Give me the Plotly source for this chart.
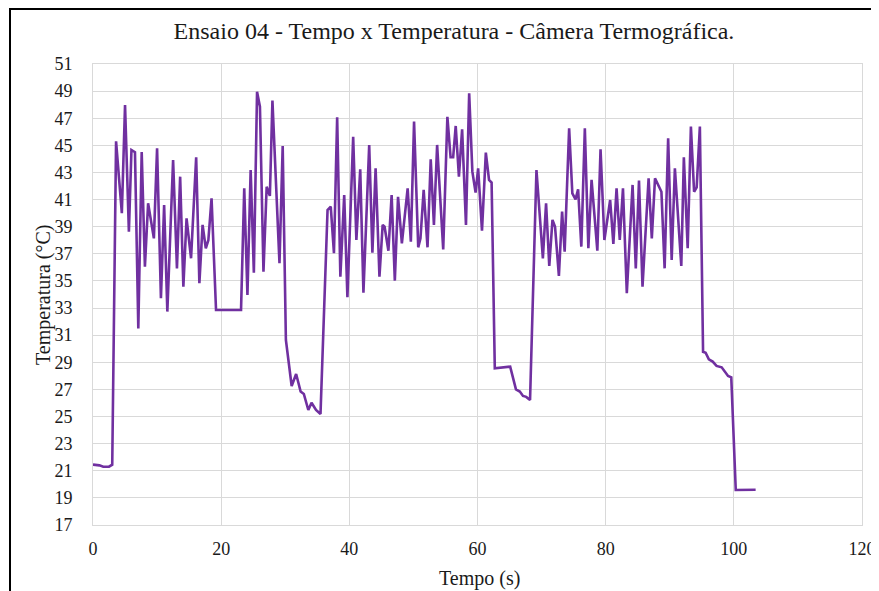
import plotly.graph_objects as go

tempo = [0, 1.0, 1.6, 2.5, 3.0, 3.6, 4.5, 5.0, 5.6, 6.0, 6.55, 7.07, 7.6, 8.1, 8.6, 9.5,
         10.0, 10.6, 11.1, 11.6, 12.5, 13.1, 13.6, 14.1, 14.6, 15.3, 16.1, 16.6, 17.1, 17.6,
         18.0, 18.5, 19.2, 23.1, 23.6, 24.1, 24.6, 25.1, 25.6, 26.05, 26.6, 27.1, 27.6, 28.0,
         29.1, 29.6, 30.1, 30.6, 31.0, 31.7, 32.4, 32.9, 33.6, 34.1, 34.8, 35.5, 36.6, 37.1,
         37.6, 38.1, 38.6, 39.2, 39.7, 40.6, 41.1, 41.7, 42.2, 43.1, 43.6, 44.1, 44.7, 45.2,
         45.5, 46.1, 46.6, 47.1, 47.6, 48.2, 49.1, 49.6, 50.1, 50.75, 51.1, 51.6, 52.2, 52.7,
         53.2, 53.7, 54.65, 55.3, 55.8, 56.2, 56.6, 57.1, 57.6, 58.2, 58.7, 59.2, 59.7, 60.1,
         60.7, 61.3, 61.8, 62.2, 62.7, 65.1, 65.5, 66.0, 66.6, 67.1, 67.6, 68.2, 69.2, 70.2,
         70.7, 71.2, 71.7, 72.1, 72.7, 73.2, 73.6, 74.3, 74.8, 75.3, 75.7, 76.2, 76.75, 77.3,
         77.8, 78.7, 79.2, 79.8, 80.7, 81.2, 81.7, 82.2, 82.7, 83.3, 84.2, 84.7, 85.2, 85.75,
         86.7, 87.2, 87.7, 88.25, 88.7, 89.2, 89.75, 90.3, 90.8, 91.8, 92.2, 92.8, 93.3, 93.8,
         94.2, 94.7, 95.2, 95.6, 96.1, 96.7, 97.3, 98.1, 98.6, 99.1, 99.6, 100.3, 103.4]

temperatura = [21.45, 21.4, 21.3, 21.3, 21.45, 45.3, 40.0, 47.98, 38.63, 44.66, 44.5, 31.5, 44.5,
               36.05, 40.73, 38.14, 44.78, 33.72, 40.6, 32.74, 43.92, 35.93, 42.69, 34.58, 39.62,
               36.67, 44.12, 34.83, 39.13, 37.41, 38.0, 41.1, 32.86, 32.86, 41.83, 33.96, 43.18,
               35.61, 48.96, 47.85, 35.68, 41.95, 41.27, 48.3, 36.3, 44.95, 30.65, 28.93, 27.25,
               28.14, 26.84, 26.66, 25.48, 26.02, 25.48, 25.19, 40.23, 40.48, 37.04, 47.07, 35.32,
               41.34, 33.8, 45.64, 38.02, 43.23, 34.14, 45.03, 37.08, 43.31, 35.32, 39.13, 39.0,
               37.23, 41.34, 35.02, 41.21, 37.77, 41.83, 37.9, 46.75, 37.48, 38.14, 41.71, 37.48,
               43.97, 39.13, 45.03, 37.33, 47.11, 44.12, 44.12, 46.43, 42.69, 46.18, 39.13, 48.84,
               43.06, 41.51, 43.31, 38.71, 44.46, 42.45, 42.25, 28.55, 28.68, 27.94, 27.0, 26.84,
               26.52, 26.45, 26.22, 43.18, 36.67, 40.73, 36.1, 39.5, 39.0, 35.37, 40.11, 37.16,
               46.26, 41.46, 41.02, 41.76, 37.53, 46.26, 37.41, 42.45, 37.23, 44.71, 38.02, 40.97,
               37.73, 41.83, 38.02, 41.83, 34.09, 42.08, 35.93, 42.4, 34.58, 42.57, 38.14, 42.57,
               41.95, 41.58, 35.93, 45.52, 36.55, 43.31, 36.1, 44.12, 37.41, 46.38, 41.58, 41.9,
               46.38, 29.78, 29.71, 29.22, 29.05, 28.73, 28.63, 28.31, 27.99, 27.89, 19.58, 19.6]

x_ticks = [0, 20, 40, 60, 80, 100, 120]
y_ticks = list(range(17, 52, 2))

FONT = "Liberation Serif, Times New Roman, serif"
TXT = "#1a1a1a"

# page is rendered with an 8px body margin; work in figure coordinates
OFF = 8
W, H = 879 - OFF, 591 - OFF
L, R, T, B = 93 - OFF, 862 - OFF, 64 - OFF, 525 - OFF

def px(xp):
    return (xp - OFF - L) / (R - L)

def py(yp):
    return (B - (yp - OFF)) / (B - T)

fig = go.Figure()
fig.add_trace(go.Scatter(
    x=tempo, y=temperatura, mode="lines",
    line=dict(color="#7030A0", width=2.6),
    showlegend=False, hoverinfo="x+y"))

fig.update_layout(
    width=W, height=H,
    margin=dict(l=L, r=W - R, t=T, b=H - B, autoexpand=False),
    paper_bgcolor="white", plot_bgcolor="white",
    font=dict(family=FONT, size=18, color=TXT),
    title=dict(text="Ensaio 04 - Tempo x Temperatura - Câmera Termográfica.",
               x=px(454), xref="paper", xanchor="center",
               y=1 - (31 - OFF) / H, yref="container", yanchor="middle",
               font=dict(family=FONT, size=24, color=TXT)),
    xaxis=dict(range=[0, 120], tickvals=x_ticks, showgrid=True, gridcolor="#d9d9d9",
               gridwidth=1, zeroline=False, showline=True, linecolor="#d9d9d9", mirror=True,
               ticks="", ticklabelstandoff=7, automargin=False,
               tickfont=dict(family=FONT, size=18, color=TXT)),
    yaxis=dict(range=[17, 51], tickvals=y_ticks, showgrid=True, gridcolor="#d9d9d9",
               gridwidth=1, zeroline=False, showline=True, linecolor="#d9d9d9", mirror=True,
               ticks="", ticklabelstandoff=16, automargin=False,
               tickfont=dict(family=FONT, size=18, color=TXT)),
    annotations=[
        dict(text="Tempo (s)", xref="paper", yref="paper", x=px(479), y=py(578),
             xanchor="center", yanchor="middle", showarrow=False,
             font=dict(family=FONT, size=20, color=TXT)),
        dict(text="Temperatura (°C)", xref="paper", yref="paper", x=px(43), y=py(295),
             xanchor="center", yanchor="middle", showarrow=False, textangle=-90,
             font=dict(family=FONT, size=20, color=TXT)),
    ],
    shapes=[
        dict(type="line", xref="paper", yref="paper", x0=px(9), x1=px(900), y0=py(9), y1=py(9),
             line=dict(color="black", width=2)),
        dict(type="line", xref="paper", yref="paper", x0=px(10), x1=px(10), y0=py(9), y1=py(600),
             line=dict(color="black", width=2)),
    ],
)

fig.write_html("out.html")
